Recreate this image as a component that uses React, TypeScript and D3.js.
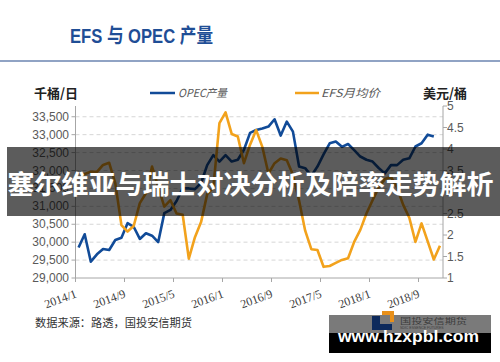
import React from "react";
import * as d3 from "d3";

// OPEC production, thousand barrels/day, monthly from 2014/1 (ends 2018/11)
const opecOutput = [
  29850, 30220, 29455, 29660, 29810, 29780, 30060, 30125, 30530, 30430,
  30090, 30250, 30180, 30000, 30810, 30900, 31150, 31500, 31500, 31480,
  31650, 32150, 32430, 32250, 32430, 32250, 32300, 32580, 33050, 33130,
  33170, 33225, 33430, 32975, 33365, 33085, 32110, 32065, 31850, 32110,
  32450, 32760, 32810, 32660, 32740, 32570, 32390, 32300, 32250, 32070,
  31920, 32150, 32150, 32300, 32340, 32670, 32760, 33000, 32950,
];

// EFS monthly average, USD/barrel, monthly from 2014/1 (ends 2018/12)
const efsPrice = [
  3.32, 3.42, 3.47, 3.47, 3.63, 3.68, 3.2, 2.23, 2.08, 2.21,
  2.74, 2.97, 3.59, 3.12, 2.66, 2.81, 2.5, 2.47, 1.45, 1.95,
  2.3, 2.95, 3.1, 4.6, 4.85, 4.35, 4.29, 3.67, 4.1, 4.44,
  4.05, 3.43, 3.67, 3.78, 3.74, 3.4, 2.8, 2.1, 1.67, 1.65,
  1.26, 1.28, 1.35, 1.42, 1.46, 1.84, 2.12, 2.5, 2.81, 3.1,
  3.3, 3.35, 3.1, 2.7, 2.4, 1.84, 2.27, 1.85, 1.43, 1.75,
];

const xTickLabels = ["2014/1", "2014/9", "2015/5", "2016/1", "2016/9", "2017/5", "2018/1", "2018/9"];
const leftTicks = [29000, 29500, 30000, 30500, 31000, 31500, 32000, 32500, 33000, 33500];
const rightTicks = [1, 1.5, 2, 2.5, 3, 3.5, 4, 4.5, 5];

const BLUE = "#114b98";
const ORANGE = "#f2a21c";
const AXIS = "#a6a6a6";
const CJK = "'Noto Sans CJK SC', sans-serif";

export default function App() {
  const plotL = 75.5, plotR = 443, plotT = 106, plotB = 278;

  // month index scale, points sit in the middle of each month
  const x = d3.scaleLinear().domain([0, 60]).range([plotL, plotR]);
  const yL = d3.scaleLinear().domain([29000, 33800]).range([plotB, plotT]);
  const yR = d3.scaleLinear().domain([1, 5]).range([plotB, plotT]);

  const opecLine = d3.line<number>()
    .x((_, i) => x(i + 0.5))
    .y(d => yL(d));
  const efsLine = d3.line<number>()
    .x((_, i) => x(i + 0.5))
    .y(d => yR(d));

  const fmt = d3.format(",");

  return (
    <svg width={500} height={362} style={{ position: "absolute", left: 0, top: 0, background: "#fff" }}>
      {/* title */}
      <text x={70} y={43} fontSize={20} fontWeight="bold" fill="#1f4e96"
        fontFamily="'Liberation Sans', 'Noto Sans CJK SC'" textLength={143} lengthAdjust="spacingAndGlyphs">
        EFS 与 OPEC 产量
      </text>
      <line x1={0} x2={500} y1={61} y2={61} stroke="#6b84b0" strokeWidth={1.5} />

      {/* units and legend */}
      <text x={34} y={98} fontSize={13} fontWeight="bold" fill="#222" fontFamily={CJK}>千桶/日</text>
      <text x={423} y={98} fontSize={13} fontWeight="bold" fill="#222" fontFamily={CJK}>美元/桶</text>
      <line x1={150} x2={175} y1={93} y2={93} stroke={BLUE} strokeWidth={2.5} />
      <text x={178} y={97} fontSize={11} fontStyle="italic" fill="#595959" fontFamily={CJK}
        textLength={49} lengthAdjust="spacingAndGlyphs">OPEC产量</text>
      <line x1={295} x2={319} y1={93} y2={93} stroke={ORANGE} strokeWidth={2.5} />
      <text x={321} y={97} fontSize={11} fontStyle="italic" fill="#595959" fontFamily={CJK}
        textLength={59} lengthAdjust="spacingAndGlyphs">EFS月均价</text>

      {/* gridlines */}
      {leftTicks.slice(1).map(t => (
        <line key={"g" + t} x1={plotL} x2={plotR} y1={yL(t)} y2={yL(t)}
          stroke="#d6d6d6" strokeDasharray="4,3" />
      ))}

      {/* left axis */}
      <line x1={plotL} x2={plotL} y1={plotT} y2={plotB} stroke={AXIS} />
      {leftTicks.map(t => (
        <g key={"l" + t}>
          <line x1={plotL - 4} x2={plotL} y1={yL(t)} y2={yL(t)} stroke={AXIS} />
          <text x={69} y={yL(t) + 4} textAnchor="end" fontSize={12} fill="#595959"
            fontFamily="'Liberation Sans', sans-serif">{fmt(t)}</text>
        </g>
      ))}

      {/* right axis */}
      <line x1={plotR} x2={plotR} y1={plotT} y2={plotB} stroke={AXIS} />
      {rightTicks.map(t => (
        <g key={"r" + t}>
          <line x1={plotR} x2={plotR + 4} y1={yR(t)} y2={yR(t)} stroke={AXIS} />
          <text x={447} y={yR(t) + 4} fontSize={12} fill="#595959"
            fontFamily="'Liberation Sans', sans-serif">{t}</text>
        </g>
      ))}

      {/* bottom axis */}
      <line x1={plotL} x2={plotR} y1={plotB} y2={plotB} stroke={AXIS} />
      {xTickLabels.map((lab, i) => {
        const tx = x(i * 8);
        return (
          <g key={lab}>
            <line x1={tx} x2={tx} y1={plotB} y2={plotB + 4} stroke={AXIS} />
            <text transform={`translate(${tx + 2},297) rotate(-20)`} textAnchor="end"
              fontSize={12} fill="#404040" fontFamily="'Liberation Serif', serif">{lab}</text>
          </g>
        );
      })}

      {/* series */}
      <path d={opecLine(opecOutput) || ""} fill="none" stroke={BLUE} strokeWidth={2.6} strokeLinejoin="round" />
      <path d={efsLine(efsPrice) || ""} fill="none" stroke={ORANGE} strokeWidth={2.6} strokeLinejoin="round" />

      {/* source */}
      <text x={35} y={327} fontSize={11.5} fill="#333" fontFamily={CJK}
        textLength={157} lengthAdjust="spacingAndGlyphs">数据来源：路透，国投安信期货</text>

      {/* banner overlay */}
      <rect x={7} y={147} width={493} height={69} fill="#000" fillOpacity={0.64} />
      <text x={7.5} y={194} fontSize={26} fontWeight="bold" fill="#fff" fontFamily={CJK}
        textLength={486} lengthAdjust="spacingAndGlyphs">塞尔维亚与瑞士对决分析及陪率走势解析</text>

      {/* watermark */}
      <rect x={329} y={315} width={162} height={19} fill="#7a7a7a" />
      <rect x={329} y={333} width={162} height={20} fill="#000" />
      <path d="M372,316 h8 v8 h12 v6 h-20 z" fill="#0d2a5c" />
      <path d="M382,311 h12 v11 h-4 v-7 h-8 z" fill="#e8901a" />
      <text x={400} y={324} fontSize={8} fill="#3c3c3c" fontFamily={CJK}
        textLength={67} lengthAdjust="spacingAndGlyphs">国投安信期货</text>
      <text x={400} y={329} fontSize={3.5} fill="#3c3c3c" fontFamily="'Liberation Sans', sans-serif">SDIC ESSENCE FUTURES</text>
      <text x={338} y={342} fontSize={17} fontWeight="bold" fill="#fff"
        fontFamily="'Liberation Sans', sans-serif" textLength={141} lengthAdjust="spacingAndGlyphs">www.hzxpbl.com</text>
    </svg>
  );
}
